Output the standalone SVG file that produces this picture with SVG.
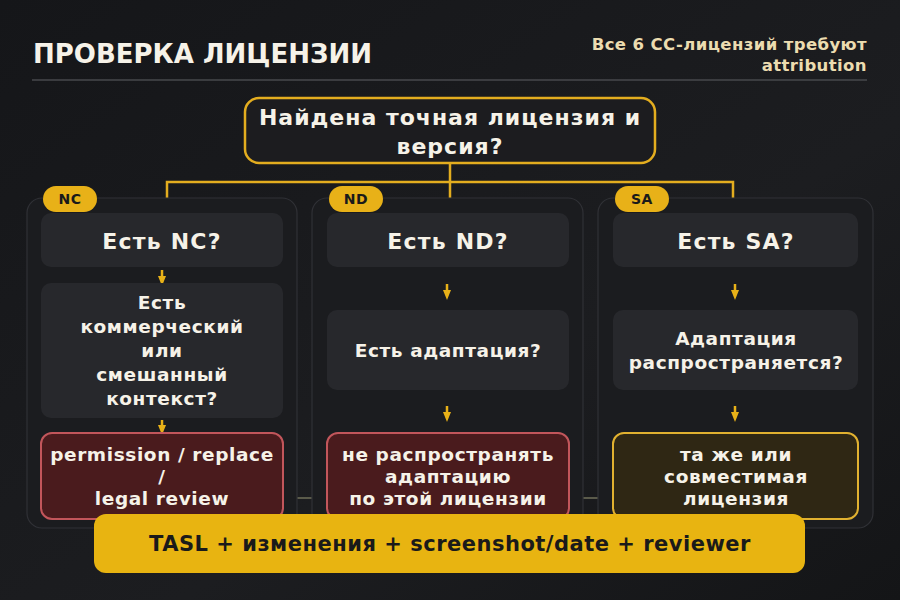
<svg xmlns="http://www.w3.org/2000/svg" width="900" height="600" viewBox="0 0 900 600">
<defs>
<linearGradient id="bg" x1="0" y1="0" x2="1" y2="1">
<stop offset="0" stop-color="#151619"/>
<stop offset="0.6" stop-color="#1c1d20"/>
<stop offset="1" stop-color="#141517"/>
</linearGradient>
<marker id="ah" viewBox="0 0 10 10" refX="5" refY="5" markerWidth="10" markerHeight="10" orient="auto" markerUnits="userSpaceOnUse">
<path d="M0,1 L10,5 L0,9 z" fill="#e8b118"/>
</marker>
</defs>
<style>
text{font-family:"DejaVu Sans",Inter,sans-serif;font-weight:700;text-anchor:middle}
.t{fill:#f6f2e8}
.panel{fill:#1b1c1f;stroke:#303136;stroke-width:1.2}
.q{fill:#27282c}
.bad{fill:#4a1b1d;stroke:#c2565b;stroke-width:2}
.ok{fill:#2f2714;stroke:#e1b130;stroke-width:2}
.pill{fill:#e8b118}
.pt{fill:#1a1a1a;font-size:14px;letter-spacing:0.5px}
.conn{fill:none;stroke:#e3ad1f;stroke-width:2.5}
.arr{stroke:#e8b118;stroke-width:2.5;marker-end:url(#ah)}
.q22{font-size:22px;letter-spacing:1.2px}
.q18{font-size:18.5px;letter-spacing:0.6px}
.note{text-anchor:end;font-size:16.5px;letter-spacing:0.4px;fill:#ecdcb0}
</style>
<rect width="900" height="600" fill="url(#bg)"/>
<text x="33" y="63" style="text-anchor:start;font-size:26px" fill="#f6f2e8">ПРОВЕРКА ЛИЦЕНЗИИ</text>
<text class="note" x="867" y="50">Все 6 CC-лицензий требуют</text>
<text class="note" x="867" y="71">attribution</text>
<line x1="32" y1="80" x2="867" y2="80" stroke="#47484d" stroke-width="1.5"/>

<g id="connectors">
<path class="conn" d="M450,163 V182 M167,199 V182 H733 V199 M450,182 V199"/>
<line x1="297" y1="498" x2="312" y2="498" stroke="#5a5a4a" stroke-width="2"/>
<line x1="583" y1="498" x2="598" y2="498" stroke="#5a5a4a" stroke-width="2"/>
</g>

<g id="root">
<rect x="245" y="98" width="410" height="65" rx="14" fill="#1c1c1f" stroke="#e3ad1f" stroke-width="2.5"/>
<text class="t" x="450" y="125" style="font-size:22px;letter-spacing:1px">Найдена точная лицензия и</text>
<text class="t" x="450" y="154" style="font-size:22px;letter-spacing:1px">версия?</text>
</g>

<g id="col-nc">
<rect class="panel" x="27" y="198" width="270" height="330" rx="15"/>
<rect class="pill" x="43" y="186" width="54" height="26" rx="13"/>
<text class="pt" x="70" y="204">NC</text>
<rect class="q" x="41" y="213" width="242" height="54" rx="10"/>
<text class="t q22" x="162" y="249">Есть NC?</text>
<line class="arr" x1="162" y1="270" x2="162" y2="281"/>
<rect class="q" x="41" y="283" width="242" height="135" rx="10"/>
<text class="t q18" x="162" y="309">Есть</text>
<text class="t q18" x="162" y="333">коммерческий</text>
<text class="t q18" x="162" y="357">или</text>
<text class="t q18" x="162" y="381">смешанный</text>
<text class="t q18" x="162" y="405">контекст?</text>
<line class="arr" x1="162" y1="420" x2="162" y2="430"/>
<rect class="bad" x="41" y="433" width="242" height="86" rx="11"/>
<text class="t q18" x="162" y="461">permission / replace</text>
<text class="t q18" x="162" y="483">/</text>
<text class="t q18" x="162" y="505">legal review</text>
</g>

<g id="col-nd">
<rect class="panel" x="312" y="198" width="271" height="330" rx="15"/>
<rect class="pill" x="329" y="186" width="54" height="26" rx="13"/>
<text class="pt" x="356" y="204">ND</text>
<rect class="q" x="327" y="213" width="242" height="54" rx="10"/>
<text class="t q22" x="448" y="249">Есть ND?</text>
<line class="arr" x1="447" y1="284" x2="447" y2="295"/>
<rect class="q" x="327" y="310" width="242" height="80" rx="10"/>
<text class="t q18" x="448" y="357">Есть адаптация?</text>
<line class="arr" x1="447" y1="406" x2="447" y2="417"/>
<rect class="bad" x="327" y="433" width="242" height="86" rx="11"/>
<text class="t q18" x="448" y="461">не распространять</text>
<text class="t q18" x="448" y="483">адаптацию</text>
<text class="t q18" x="448" y="505">по этой лицензии</text>
</g>

<g id="col-sa">
<rect class="panel" x="598" y="198" width="275" height="330" rx="15"/>
<rect class="pill" x="615" y="186" width="54" height="26" rx="13"/>
<text class="pt" x="642" y="204">SA</text>
<rect class="q" x="613" y="213" width="245" height="54" rx="10"/>
<text class="t q22" x="736" y="249">Есть SA?</text>
<line class="arr" x1="735" y1="284" x2="735" y2="295"/>
<rect class="q" x="613" y="310" width="245" height="80" rx="10"/>
<text class="t q18" x="736" y="345">Адаптация</text>
<text class="t q18" x="736" y="369">распространяется?</text>
<line class="arr" x1="735" y1="406" x2="735" y2="417"/>
<rect class="ok" x="613" y="433" width="245" height="86" rx="11"/>
<text class="t q18" x="736" y="461">та же или</text>
<text class="t q18" x="736" y="483">совместимая</text>
<text class="t q18" x="736" y="505">лицензия</text>
</g>

<g id="summary">
<rect x="94" y="514" width="711" height="59" rx="12" fill="#e8b411"/>
<text x="450" y="551" style="font-size:21px;letter-spacing:0.5px" fill="#1a1a1a">TASL + изменения + screenshot/date + reviewer</text>
</g>
</svg>
